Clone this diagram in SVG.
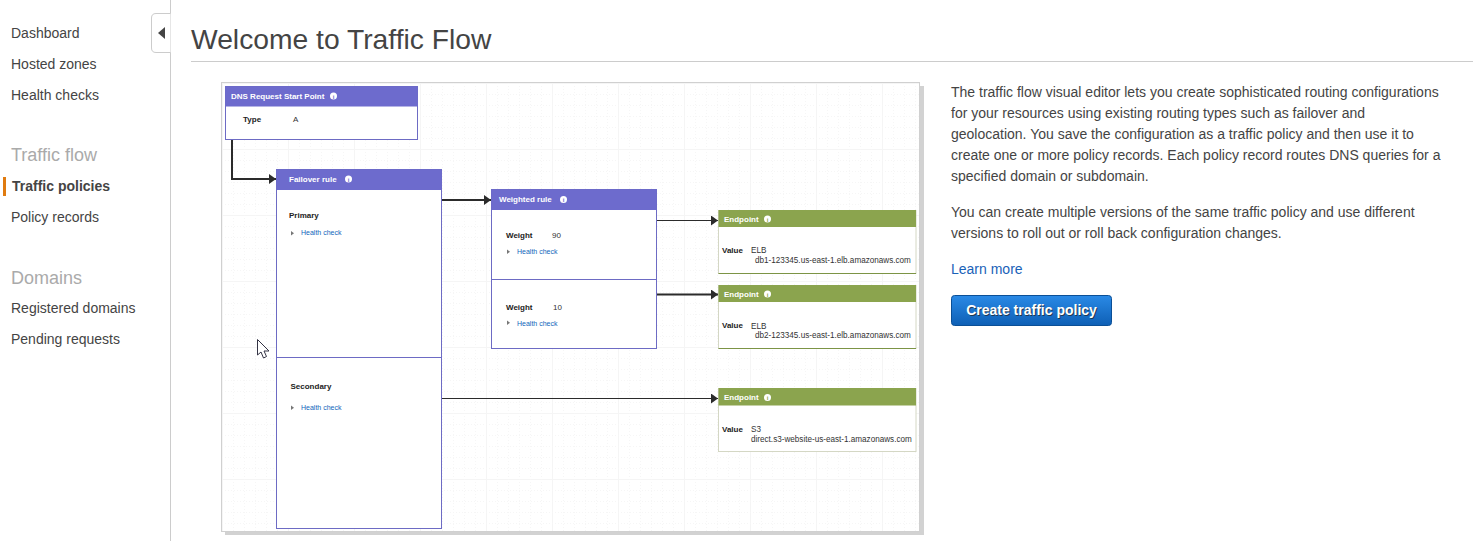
<svg xmlns="http://www.w3.org/2000/svg" width="1473" height="541" viewBox="0 0 1473 541">
<style>
text{font-family:"Liberation Sans",Arial,sans-serif}
.nav{font-size:14px;fill:#444}
.navh{font-size:18px;fill:#aaa}
.body{font-size:14px;fill:#444}
.h{font-size:8px;font-weight:bold;fill:#fff}
.b{font-size:8px;font-weight:bold;fill:#222}
.v{font-size:8px;fill:#333}
.u{font-size:8.15px;fill:#333}
.l{font-size:7px;fill:#1166bb}
.tri{fill:#777}
.pur{fill:#fff;stroke:#6d6bc4;stroke-width:1}
.ph{fill:#6d6bcd}
.grn{fill:#fff;stroke:#d4d7c4;stroke-width:1}
.gh{fill:#8ba44e}
.gl{stroke:#7c9445;stroke-width:1.2;fill:none}
.c{fill:none;stroke:#2b2b2b;stroke-width:2}
.c2{fill:none;stroke:#2b2b2b;stroke-width:1.2}
.ic{fill:#fff}
.it{font-size:6px;font-weight:bold;text-anchor:middle}
</style>
<defs>
<marker id="a" markerUnits="userSpaceOnUse" markerWidth="8" markerHeight="10" refX="7" refY="5" orient="auto"><path d="M0 0L7 5L0 10Z" fill="#2b2b2b"/></marker>
<pattern id="g" width="66" height="66" patternUnits="userSpaceOnUse" x="222" y="83"><path d="M0 .5H66M.5 0V66" stroke="#f5f5f5" fill="none"/><path d="M0 11.500H66M0 22.500H66M0 33.500H66M0 44.500H66M0 55.500H66M11.500 0V66M22.500 0V66M33.500 0V66M44.500 0V66M55.500 0V66" stroke="#f6f6f6" stroke-dasharray="1 2" fill="none"/></pattern>
</defs>

<g id="sidebar">
<path d="M170.500 0V541" stroke="#ccc" fill="none"/>
<path d="M170.500 13.500H156Q151.500 13.500 151.500 18V48Q151.500 52.500 156 52.500H170.500" fill="#fff" stroke="#ccc"/>
<path d="M165 27V39L158 33Z" fill="#444"/>
<text class="nav" x="11" y="38">Dashboard</text>
<text class="nav" x="11" y="69">Hosted zones</text>
<text class="nav" x="11" y="100">Health checks</text>
<text class="navh" x="11" y="161">Traffic flow</text>
<rect x="3" y="177" width="3" height="19" fill="#e07b10"/>
<text class="nav" x="12" y="191" font-weight="bold">Traffic policies</text>
<text class="nav" x="11" y="222">Policy records</text>
<text class="navh" x="11" y="284">Domains</text>
<text class="nav" x="11" y="313">Registered domains</text>
<text class="nav" x="11" y="344">Pending requests</text>
</g>

<g id="page-title">
<text x="191" y="49" font-size="28.250" fill="#444">Welcome to Traffic Flow</text>
<path d="M191 61.500H1473" stroke="#ccc" fill="none"/>
</g>

<g id="canvas">
<rect x="225" y="86" width="699" height="449" fill="#d2d2d2"/>
<rect x="221.500" y="82.500" width="698" height="449" fill="#fff" stroke="#d0d0d0"/>
<rect x="222" y="83" width="697" height="448" fill="url(#g)"/>
</g>

<g id="connectors">
<path class="c" d="M232 140V179H276" marker-end="url(#a)"/>
<path class="c" d="M442 200H491" marker-end="url(#a)"/>
<path class="c2" d="M657 220.500H718" marker-end="url(#a)"/>
<path class="c" d="M657 294.500H718" marker-end="url(#a)"/>
<path class="c2" d="M442 398.500H718" marker-end="url(#a)"/>
</g>

<g id="node-dns">
<rect class="pur" x="225.500" y="86.500" width="192" height="53"/>
<rect class="ph" x="225.500" y="86.500" width="192" height="20"/>
<text class="h" x="231" y="99">DNS Request Start Point</text>
<circle class="ic" cx="333.500" cy="96" r="3.500"/><text class="it" x="333.500" y="98.500" fill="#6d6bcd">i</text>
<text class="b" x="243" y="122">Type</text>
<text class="v" x="293" y="122">A</text>
</g>

<g id="node-failover">
<rect class="pur" x="276.500" y="169.500" width="165" height="359"/>
<rect class="ph" x="276.500" y="169.500" width="165" height="20.500"/>
<path d="M276.500 357.500H441.500" stroke="#6d6bc4" fill="none"/>
<text class="h" x="289" y="182">Failover rule</text>
<circle class="ic" cx="348.500" cy="179" r="3.500"/><text class="it" x="348.500" y="181.500" fill="#6d6bcd">i</text>
<text class="b" x="289" y="218">Primary</text>
<path class="tri" d="M291 231V235.500L294 233.200Z"/>
<text class="l" x="301" y="235">Health check</text>
<text class="b" x="290.500" y="389">Secondary</text>
<path class="tri" d="M291 405.500V410L294 407.700Z"/>
<text class="l" x="301" y="410">Health check</text>
</g>

<g id="node-weighted">
<rect class="pur" x="491.500" y="189.500" width="165" height="159"/>
<rect class="ph" x="491.500" y="189.500" width="165" height="20.500"/>
<path d="M491.500 279.500H656.500" stroke="#6d6bc4" fill="none"/>
<text class="h" x="499" y="202">Weighted rule</text>
<circle class="ic" cx="563.500" cy="199.500" r="3.500"/><text class="it" x="563.500" y="202" fill="#6d6bcd">i</text>
<text class="b" x="506" y="238">Weight</text>
<text class="v" x="552" y="238">90</text>
<path class="tri" d="M507 249.500V254L510 251.700Z"/>
<text class="l" x="517" y="254">Health check</text>
<text class="b" x="506" y="310">Weight</text>
<text class="v" x="553" y="310">10</text>
<path class="tri" d="M507 320.500V325L510 322.700Z"/>
<text class="l" x="517" y="325.500">Health check</text>
</g>

<g id="node-endpoint-1">
<rect class="grn" x="718.500" y="210.500" width="197.500" height="63"/>
<rect class="gh" x="718.500" y="210" width="197.500" height="17"/>
<path class="gl" d="M718.500 273.500H916"/>
<text class="h" x="724" y="222">Endpoint</text>
<circle class="ic" cx="767.500" cy="219" r="3.500"/><text class="it" x="767.500" y="221.500" fill="#8ba44e">i</text>
<text class="b" x="722" y="253">Value</text>
<text class="u" x="751" y="253">ELB</text>
<text class="u" x="755" y="263">db1-123345.us-east-1.elb.amazonaws.com</text>
</g>

<g id="node-endpoint-2">
<rect class="grn" x="718.500" y="285.500" width="197.500" height="63"/>
<rect class="gh" x="718.500" y="285" width="197.500" height="17"/>
<path class="gl" d="M718.500 348.500H916"/>
<text class="h" x="724" y="297">Endpoint</text>
<circle class="ic" cx="767.500" cy="294" r="3.500"/><text class="it" x="767.500" y="296.500" fill="#8ba44e">i</text>
<text class="b" x="722" y="328">Value</text>
<text class="u" x="751" y="329">ELB</text>
<text class="u" x="755" y="338">db2-123345.us-east-1.elb.amazonaws.com</text>
</g>

<g id="node-endpoint-3">
<rect class="grn" x="718.500" y="388.500" width="197.500" height="63"/>
<rect class="gh" x="718.500" y="388" width="197.500" height="17.500"/>
<text class="h" x="724" y="400">Endpoint</text>
<circle class="ic" cx="767.500" cy="397.500" r="3.500"/><text class="it" x="767.500" y="400" fill="#8ba44e">i</text>
<text class="b" x="722" y="432">Value</text>
<text class="u" x="751" y="432">S3</text>
<text class="u" x="751" y="442">direct.s3-website-us-east-1.amazonaws.com</text>
</g>

<g id="cursor">
<path d="M257.500 339.500V355L261 352L263.500 358L266.500 356.500L264 351H269Z" fill="#fff" stroke="#334" stroke-width="1"/>
</g>

<g id="intro">
<text class="body" x="951" y="97">The traffic flow visual editor lets you create sophisticated routing configurations</text>
<text class="body" x="951" y="118">for your resources using existing routing types such as failover and</text>
<text class="body" x="951" y="139">geolocation. You save the configuration as a traffic policy and then use it to</text>
<text class="body" x="951" y="160">create one or more policy records. Each policy record routes DNS queries for a</text>
<text class="body" x="951" y="181">specified domain or subdomain.</text>
<text class="body" x="951" y="217">You can create multiple versions of the same traffic policy and use different</text>
<text class="body" x="951" y="238">versions to roll out or roll back configuration changes.</text>
<text x="951" y="274" font-size="14" fill="#1a62b8">Learn more</text>
</g>

<g id="button">
<defs><linearGradient id="bt" x1="0" y1="0" x2="0" y2="1"><stop offset="0" stop-color="#2a8ae6"/><stop offset="1" stop-color="#0e5fb5"/></linearGradient></defs>
<rect x="951.500" y="295.500" width="160" height="30" rx="3" fill="url(#bt)" stroke="#0b4f96"/>
<text x="1032.500" y="316" font-size="14" font-weight="bold" text-anchor="middle" fill="#222" opacity=".7">Create traffic policy</text>
<text x="1031.500" y="315" font-size="14" font-weight="bold" text-anchor="middle" fill="#fff">Create traffic policy</text>
</g>
</svg>
